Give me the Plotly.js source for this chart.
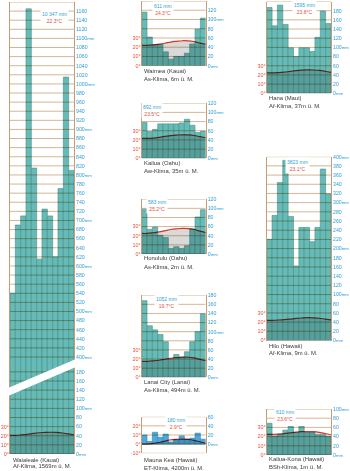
<!DOCTYPE html>
<html><head><meta charset="utf-8">
<script src="https://cdn.plot.ly/plotly-3.0.1.min.js"></script>
<style>
html,body{margin:0;padding:0;background:#fff;}
#chart{width:350px;height:471px;}
/* precipitation bars are printed "multiply" over grid, grey area and temperature curve */
.cartesianlayer .overplot > g, .cartesianlayer g.plot { mix-blend-mode: multiply; }
</style></head><body><div id="chart"></div>
<script>
// ---------- DATA ----------
const months = [1,2,3,4,5,6,7,8,9,10,11,12];

const stations = ['Waialeale (Kauai)','Waimea (Kauai)','Kailua (Oahu)','Honolulu (Oahu)','Lanai City (Lanai)','Mauna Kea (Hawaii)','Hana (Maui)','Hilo (Hawaii)','Kailua-Kona (Hawaii)'];
const climates = ['Af-Klima, 1569m ü. M.','As-Klima, 6m ü. M.','Aw-Klima, 35m ü. M.','As-Klima, 2m ü. M.','As-Klima, 494m ü. M.','ET-Klima, 4200m ü. M.','Af-Klima, 37m ü. M.','Af-Klima, 9m ü. M.','BSh-Klima, 1m ü. M.'];
const annualPrecip = ['10 347 mm','611 mm','892 mm','583 mm','1052 mm','180 mm','1595 mm','3823 mm','610 mm'];
const annualTemp = ['22.3°C','24.3°C','23.5°C','25.2°C','19.7°C','2.9°C','23.8°C','23.1°C','23.6°C'];

const precipWaialeale = [540,690,710,1165,815,615,725,710,620,770,1015,810];
const precipWaimea    = [116,62,46,46,30,14,20,20,27,47,79,103];
const precipKailua    = [78,58,63,75,75,75,75,77,85,72,56,59];
const precipHonolulu  = [98,54,59,41,36,12,16,12,18,55,81,97];
const precipLanai     = [168,113,104,94,78,40,50,45,56,78,100,139];
const precipMaunaKea  = [20,6,26,15,22,4,10,18,11,13,24,11];
const precipHana      = [187,147,192,150,99,80,99,99,91,122,179,152];
const precipHilo      = [220,272,344,392,270,162,246,246,215,246,373,319];
const precipKona      = [69,41,45,54,62,49,62,49,49,44,44,40];

const tempWaialeale = [20.5,20.5,21,21.5,22.5,23.3,23.6,23.8,23.6,23,22,21];
const tempWaimea    = [22,22,22.5,23.3,24.3,25.6,26.4,27,26.8,26,24.5,23.2];
const tempKailua    = [21.8,21.6,22,22.8,23.8,24.8,25.3,25.6,25.4,24.8,23.6,22.4];
const tempHonolulu  = [22.5,22.5,23.3,24.2,25.5,26.8,27.5,28,27.8,26.8,25,23.5];
const tempLanai     = [17.5,17.5,18,18.7,19.8,20.8,21.5,22,22,21.2,19.6,18.2];
const tempMaunaKea  = [0,0,0.8,1.8,3.3,4.8,5.3,5.6,5.2,4.2,2.6,1];
const tempHana      = [22.3,22.2,22.5,23,23.8,24.6,25.2,25.5,25.4,25,24,22.8];
const tempHilo      = [22,22,22.3,22.7,23.3,24,24.5,24.8,24.6,24.2,23.3,22.4];
const tempKona      = [22.5,22.5,22.8,23.2,24,24.8,25.3,25.5,25.3,24.6,23.4,22];

// ---------- LAYOUT GEOMETRY (pixels) ----------
const W = 350, H = 471;
const fx = v => v / W;
const fy = v => 1 - v / H;
const FONT = '"Liberation Sans", Arial, sans-serif';
const C_BAR = '#67bab5', C_BAR_ET = '#4eaadc', C_GRID = '#d5b692', C_FRAME = '#c49c76';
const C_PREC = '#2e9fd8', C_TEMP = '#e4503c', C_LINE = '#d8342b', C_DRY = 'rgba(0,0,0,0.15)';

const panels = [
  {P:precipWaialeale,T:tempWaialeale,x0:10,x1:74,top:365,bottom:454,range:[0,195],lmin:0,lmax:180,tt:[0,10,20,30],
   name:[11,459.5,466],txt:[54,17.5]},
  {P:precipWaimea,T:tempWaimea,x0:141.7,x1:205.7,top:1,bottom:65.7,range:[0,140],lmin:0,lmax:140,tt:[0,10,20,30],
   name:[142.3,71,79.3],txt:[163,9.3]},
  {P:precipKailua,T:tempKailua,x0:141.7,x1:205.7,top:103.2,bottom:158.3,range:[0,120],lmin:0,lmax:120,tt:[0,10,20,30],
   name:[142.3,162.7,171],txt:[151.5,110.3]},
  {P:precipHonolulu,T:tempHonolulu,x0:141.7,x1:205.7,top:199.2,bottom:254,range:[0,120],lmin:0,lmax:120,tt:[0,10,20,30],
   name:[142.3,258.3,266.7],txt:[157,205.8]},
  {P:precipLanai,T:tempLanai,x0:141.7,x1:205.7,top:295.2,bottom:377.3,range:[0,180],lmin:0,lmax:180,tt:[0,10,20,30],
   name:[142.3,382.3,390],txt:[166,302.5]},
  {P:precipMaunaKea,T:tempMaunaKea,x0:141.7,x1:205.7,top:416.7,bottom:453.3,range:[-20,60],lmin:0,lmax:60,tt:[-10,0,10,20],
   name:[142.3,460,467.7],txt:[175.5,423.8],et:true},
  {P:precipHana,T:tempHana,x0:266.7,x1:331,top:1.5,bottom:93.3,range:[0,200],lmin:0,lmax:200,tt:[0,10,20,30],
   name:[267,97.7,106],txt:[304,8.6]},
  {P:precipHilo,T:tempHilo,x0:266.7,x1:331,top:156.7,bottom:340.5,range:[0,400],lmin:0,lmax:400,tt:[0,10,20,30],
   name:[267,345.7,353.3],txt:[297.5,165.3]},
  {P:precipKona,T:tempKona,x0:266.7,x1:331,top:409,bottom:455,range:[0,100],lmin:0,lmax:100,tt:[0,10,20,30],
   name:[267,459.3,467.3],txt:[284.5,415.3]}
];
// upper (broken-axis) part of Waialeale
const upper = {P:precipWaialeale,x0:10,x1:74,top:2,bottom:365,range:[382.4,1180],lmin:400,lmax:1180};

function pticks(r, lo, hi) {
  const vals = [], text = [];
  for (let v = Math.ceil(r[0] / 20) * 20; v <= r[1] + 0.01; v += 20) {
    vals.push(v);
    text.push(v < lo || v > hi ? '' : (v % 100 === 0 ? v + '<span style="font-size:4.3px">mm</span>' : String(v)));
  }
  return {vals, text};
}
const xn = n => n === 1 ? 'xaxis' : 'xaxis' + n;
const yn = n => n === 1 ? 'yaxis' : 'yaxis' + n;
const xi = n => n === 1 ? 'x' : 'x' + n;
const yi = n => n === 1 ? 'y' : 'y' + n;

const data = [];
const layout = {
  width: W, height: H, margin: {l:0, r:0, t:0, b:0},
  paper_bgcolor: '#fff', plot_bgcolor: 'rgba(0,0,0,0)',
  showlegend: false, bargap: 0, font: {family: FONT, size: 6, color: '#333'},
  annotations: [], shapes: []
};

function hiddenX(dom, range, anchor, overlay) {
  const ax = {domain: dom, range: range, anchor: anchor, visible: true, showgrid: false, zeroline: false,
    showline: false, showticklabels: false, ticks: '', fixedrange: true};
  if (overlay) ax.overlaying = overlay;
  return ax;
}

function precipAxis(p, overlay, anchor, xref, xr, yref) {
  const t = pticks(p.range, p.lmin, p.lmax);
  // horizontal grid lines at every tick, below the (multiply-blended) bars
  t.vals.forEach(v => layout.shapes.push({type: 'line', xref: xref, yref: yref, layer: 'below',
    x0: xr[0], x1: xr[1], y0: v, y1: v, line: {color: C_GRID, width: 1}}));
  const ax = {
    domain: [fy(p.bottom), fy(p.top)], range: p.range, side: 'right', anchor: anchor,
    tickmode: 'array', tickvals: t.vals, ticktext: t.text,
    tickfont: {family: FONT, size: 5.2, color: C_PREC},
    ticks: '', showgrid: false, zeroline: false,
    showline: true, mirror: true, linecolor: C_FRAME, linewidth: 1, fixedrange: true
  };
  if (overlay) ax.overlaying = overlay;
  return ax;
}

panels.forEach((p, k) => {
  const xt = 2*k + 1, xb = 2*k + 2, yt = 2*k + 1, yp = 2*k + 2;
  const xdom = [fx(p.x0), fx(p.x1)];
  layout[xn(xt)] = hiddenX(xdom, [1, 12], yi(yt), null);
  layout[xn(xb)] = hiddenX(xdom, [0.5, 12.5], yi(yt), xi(xt));
  layout[yn(yt)] = {
    domain: [fy(p.bottom), fy(p.top)], range: [p.range[0] / 2, p.range[1] / 2], anchor: xi(xt), side: 'left',
    tickmode: 'array', tickvals: p.tt, ticktext: p.tt.map(v => v + '°'),
    tickfont: {family: FONT, size: 5.4, color: C_TEMP}, ticks: '', showgrid: false, zeroline: false,
    showline: false, fixedrange: true
  };
  layout[yn(yp)] = precipAxis(p, yi(yt), xi(xt), xi(xt), [1, 12], yi(yp));

  // area under the temperature curve (dry area where not covered by bars)
  data.push({type: 'scatter', x: months, y: p.T, xaxis: xi(xt), yaxis: yi(yt), mode: 'none',
    fill: 'tozeroy', fillcolor: C_DRY, line: {shape: 'spline'}, hoverinfo: 'skip'});
  // temperature curve
  data.push({type: 'scatter', x: months, y: p.T, xaxis: xi(xt), yaxis: yi(yt), mode: 'lines',
    line: {color: C_LINE, width: 1.2, shape: 'spline'}, hoverinfo: 'skip'});
  // precipitation bars
  data.push({type: 'bar', x: months, y: p.P, xaxis: xi(xb), yaxis: yi(yp), width: 1,
    marker: {color: p.et ? C_BAR_ET : C_BAR, line: {color: p.et ? '#2f86b8' : '#3f928e', width: 0.6}}, hoverinfo: 'skip'});

  layout.annotations.push({xref: 'paper', yref: 'paper', x: fx(p.name[0]), y: fy(p.name[1]), xanchor: 'left', yanchor: 'middle',
    text: stations[k], showarrow: false, font: {family: FONT, size: 5.9, color: '#3a3a3a'}});
  layout.annotations.push({xref: 'paper', yref: 'paper', x: fx(p.name[0]), y: fy(p.name[2]), xanchor: 'left', yanchor: 'middle',
    text: climates[k], showarrow: false, font: {family: FONT, size: 5.9, color: '#3a3a3a'}});
  layout.annotations.push({xref: 'paper', yref: 'paper', x: fx(p.txt[0]), y: fy(p.txt[1]), xanchor: 'center', yanchor: 'middle',
    text: annualPrecip[k] + '<br><span style="color:' + C_TEMP + '">' + annualTemp[k] + '</span>',
    showarrow: false, bgcolor: '#fff', borderpad: 1, font: {family: FONT, size: 5, color: C_PREC}});
});

// Waialeale upper part of broken axis
(function () {
  const n = 19;
  layout[xn(n)] = hiddenX([fx(upper.x0), fx(upper.x1)], [0.5, 12.5], yi(n), null);
  layout[yn(n)] = precipAxis(upper, null, xi(n), xi(n), [0.5, 12.5], yi(n));
  data.push({type: 'bar', x: months, y: upper.P, xaxis: xi(n), yaxis: yi(n), width: 1,
    marker: {color: C_BAR, line: {color: '#3f928e', width: 0.6}}, hoverinfo: 'skip'});
})();

// white diagonal break band (drawn on top)
const band = [[8, 388], [8, 396], [76, 367], [76, 359]];
layout.shapes.push({type: 'path', xref: 'paper', yref: 'paper', layer: 'above',
  path: 'M' + band.map(q => fx(q[0]) + ',' + fy(q[1])).join(' L') + ' Z',
  fillcolor: '#fff', line: {width: 0}});

Plotly.newPlot('chart', data, layout, {staticPlot: true, displayModeBar: false});
</script></body></html>
